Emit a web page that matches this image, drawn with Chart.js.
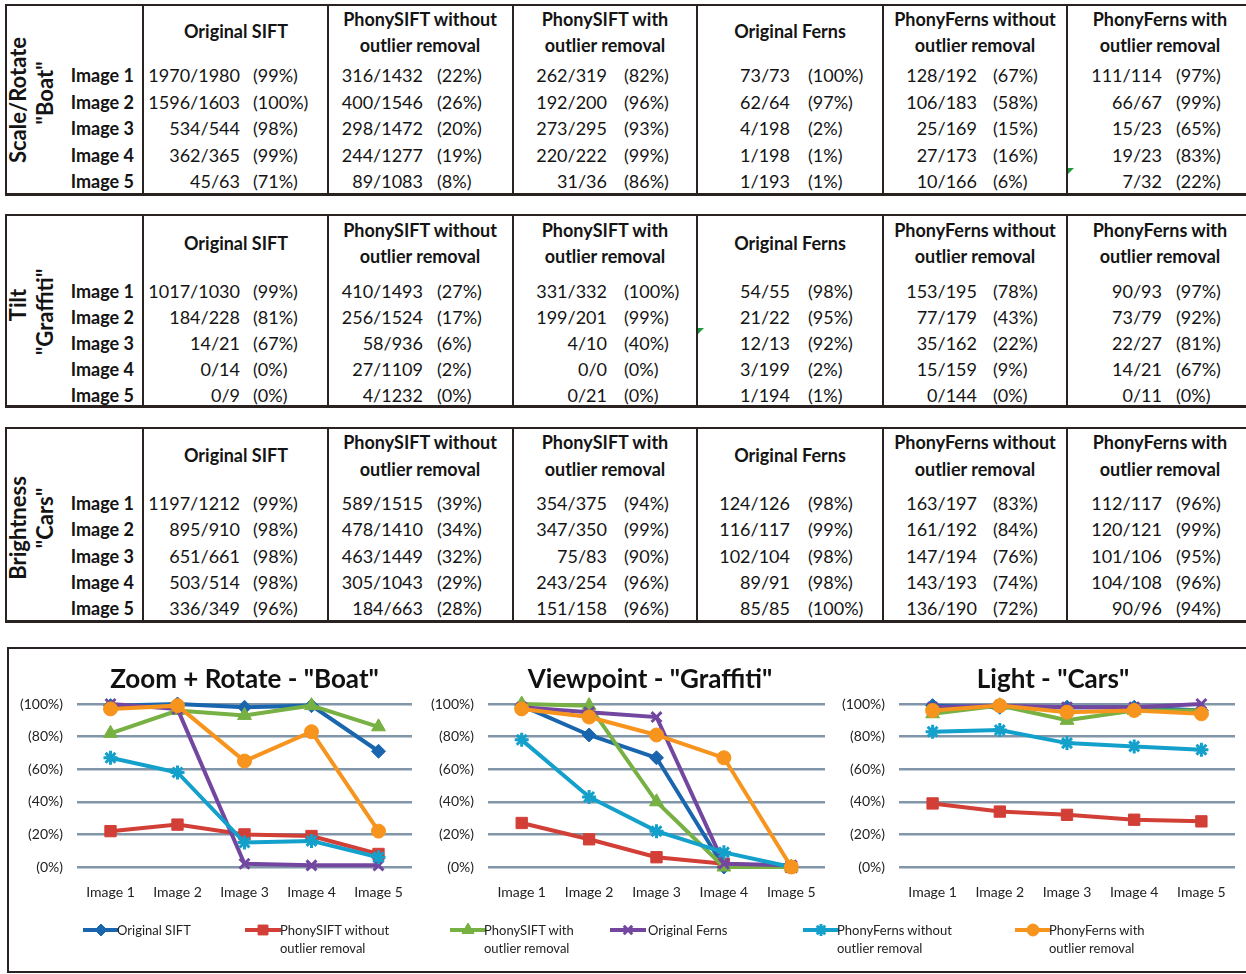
<!DOCTYPE html>
<html>
<head>
<meta charset="utf-8">
<script src="https://cdn.jsdelivr.net/npm/chart.js@4.4.1/dist/chart.umd.min.js"></script>
<style>
  html, body { margin: 0; padding: 0; background: #fff; }
  body { width: 1246px; height: 974px; overflow: hidden; position: relative;
         font-family: Lato, "Open Sans", sans-serif; color: #141414; }
  .cell { position: absolute; white-space: nowrap; font-size: 18px; line-height: 22px; height: 22px; }
  .b { font-weight: bold; }
  .frame { position: absolute; border: 2px solid #2a2220; box-sizing: border-box; }
  .vline { position: absolute; width: 2px; background: #2a2220; }
  .rot { position: absolute; white-space: nowrap; font-weight: bold; font-size: 22px; line-height: 24px;
         transform: translate(-50%, -50%) rotate(-90deg); }
  .flag { position: absolute; width: 0; height: 0; border-top: 6px solid #1a9a3a; border-right: 6px solid transparent; }
  canvas.chart { position: absolute; }
  .leg { position: absolute; font-size: 13px; line-height: 18px; white-space: nowrap; color: #222; }
</style>
</head>
<body>
<script>
// ---- categories and labels ----
const images = ['Image 1', 'Image 2', 'Image 3', 'Image 4', 'Image 5'];
const methods = [
  ['Original SIFT'],
  ['PhonySIFT without', 'outlier removal'],
  ['PhonySIFT with', 'outlier removal'],
  ['Original Ferns'],
  ['PhonyFerns without', 'outlier removal'],
  ['PhonyFerns with', 'outlier removal']
];
const yTickValues = [0, 20, 40, 60, 80, 100];
const yTickLabels = ['(0%)', '(20%)', '(40%)', '(60%)', '(80%)', '(100%)'];

// ---- Scale/Rotate "Boat" (rows: methods, columns: images) ----
const boatMatched = [
  [1970, 1596, 534, 362, 45],
  [316, 400, 298, 244, 89],
  [262, 192, 273, 220, 31],
  [73, 62, 4, 1, 1],
  [128, 106, 25, 27, 10],
  [111, 66, 15, 19, 7]
];
const boatTotal = [
  [1980, 1603, 544, 365, 63],
  [1432, 1546, 1472, 1277, 1083],
  [319, 200, 295, 222, 36],
  [73, 64, 198, 198, 193],
  [192, 183, 169, 173, 166],
  [114, 67, 23, 23, 32]
];
const boatPercent = [
  [99, 100, 98, 99, 71],
  [22, 26, 20, 19, 8],
  [82, 96, 93, 99, 86],
  [100, 97, 2, 1, 1],
  [67, 58, 15, 16, 6],
  [97, 99, 65, 83, 22]
];

// ---- Tilt "Graffiti" ----
const graffitiMatched = [
  [1017, 184, 14, 0, 0],
  [410, 256, 58, 27, 4],
  [331, 199, 4, 0, 0],
  [54, 21, 12, 3, 1],
  [153, 77, 35, 15, 0],
  [90, 73, 22, 14, 0]
];
const graffitiTotal = [
  [1030, 228, 21, 14, 9],
  [1493, 1524, 936, 1109, 1232],
  [332, 201, 10, 0, 21],
  [55, 22, 13, 199, 194],
  [195, 179, 162, 159, 144],
  [93, 79, 27, 21, 11]
];
const graffitiPercent = [
  [99, 81, 67, 0, 0],
  [27, 17, 6, 2, 0],
  [100, 99, 40, 0, 0],
  [98, 95, 92, 2, 1],
  [78, 43, 22, 9, 0],
  [97, 92, 81, 67, 0]
];

// ---- Brightness "Cars" ----
const carsMatched = [
  [1197, 895, 651, 503, 336],
  [589, 478, 463, 305, 184],
  [354, 347, 75, 243, 151],
  [124, 116, 102, 89, 85],
  [163, 161, 147, 143, 136],
  [112, 120, 101, 104, 90]
];
const carsTotal = [
  [1212, 910, 661, 514, 349],
  [1515, 1410, 1449, 1043, 663],
  [375, 350, 83, 254, 158],
  [126, 117, 104, 91, 85],
  [197, 192, 194, 193, 190],
  [117, 121, 106, 108, 96]
];
const carsPercent = [
  [99, 98, 98, 98, 96],
  [39, 34, 32, 29, 28],
  [94, 99, 90, 96, 96],
  [98, 99, 98, 98, 100],
  [83, 84, 76, 74, 72],
  [96, 99, 95, 96, 94]
];

// ---- series styling ----
const seriesColors = ['#1a66ae', '#d23f37', '#77b043', '#7347a0', '#13a0cb', '#f7941e'];
const seriesPoints = ['rectRot', 'rect', 'triangle', 'crossRot', 'star', 'circle'];
const seriesRadius = [7, 8, 8, 7, 7, 7];

// ---- tables ----
const colSep = [143, 328, 513, 697, 883, 1067];
const headCenter = [236, 420, 605, 790, 975, 1160];
const fracRight = [240, 423, 607, 790, 977, 1162];
const pctLeft = [253, 437, 624, 808, 993, 1176];

const tables = [
  { names: ['Scale/Rotate', '"Boat"'], nameY: [100, 93], matched: boatMatched, total: boatTotal, pct: boatPercent,
    top: 4, bottom: 196, head2: [19, 45], head1: 31, row0: 75, step: 26.5 },
  { names: ['Tilt', '"Graffiti"'], nameY: [305, 312], matched: graffitiMatched, total: graffitiTotal, pct: graffitiPercent,
    top: 214, bottom: 408, head2: [230, 256], head1: 243, row0: 290.5, step: 26 },
  { names: ['Brightness', '"Cars"'], nameY: [528, 518], matched: carsMatched, total: carsTotal, pct: carsPercent,
    top: 427, bottom: 623, head2: [442, 469], head1: 455, row0: 503, step: 26.3 }
];

function addDiv(cls, text, style) {
  const d = document.createElement('div');
  d.className = cls;
  if (text !== null) d.textContent = text;
  Object.assign(d.style, style);
  document.body.appendChild(d);
  return d;
}

tables.forEach(t => {
  addDiv('frame', null, { left: '5px', top: t.top + 'px', width: '1260px', height: (t.bottom - t.top) + 'px',
    borderBottomWidth: '3px' });
  colSep.forEach(x => addDiv('vline', null, { left: (x - 1) + 'px', top: t.top + 'px', height: (t.bottom - t.top) + 'px' }));
  addDiv('rot', t.names[0], { left: '18px', top: t.nameY[0] + 'px' });
  addDiv('rot', t.names[1], { left: '45px', top: t.nameY[1] + 'px' });

  methods.forEach((lines, c) => {
    if (lines.length === 1) {
      addDiv('cell b', lines[0], { left: (headCenter[c] - 100) + 'px', width: '200px', textAlign: 'center', top: (t.head1 - 11) + 'px' });
    } else {
      lines.forEach((ln, k) => addDiv('cell b', ln,
        { left: (headCenter[c] - 100) + 'px', width: '200px', textAlign: 'center', top: (t.head2[k] - 11) + 'px' }));
    }
  });

  images.forEach((img, r) => {
    const y = t.row0 + r * t.step - 11;
    addDiv('cell b', img, { left: '0px', width: '134px', textAlign: 'right', top: y + 'px' });
    methods.forEach((m, c) => {
      addDiv('cell', t.matched[c][r] + '/' + t.total[c][r],
        { left: (fracRight[c] - 150) + 'px', width: '150px', textAlign: 'right', top: y + 'px' });
      addDiv('cell', '(' + t.pct[c][r] + '%)', { left: pctLeft[c] + 'px', top: y + 'px' });
    });
  });
});

// small cell-note markers
addDiv('flag', null, { left: '1068px', top: '168px' });
addDiv('flag', null, { left: '698px', top: '328px' });

// ---- chart panel ----
addDiv('frame', null, { left: '7px', top: '647px', width: '1260px', height: '326px' });

// canvas spans are chosen so the title is centred over each canvas
const charts = [
  { title: 'Zoom + Rotate - "Boat"', pct: boatPercent, left: 20, width: 449, axisW: 57, padR: 57 },
  { title: 'Viewpoint - "Graffiti"', pct: graffitiPercent, left: 430, width: 440, axisW: 58, padR: 45 },
  { title: 'Light - "Cars"', pct: carsPercent, left: 840, width: 426, axisW: 59, padR: 31 }
];

const tickFont = { family: 'Lato', size: 14 };

charts.forEach(cfg => {
  const cv = document.createElement('canvas');
  cv.className = 'chart';
  cv.width = cfg.width; cv.height = 245;
  Object.assign(cv.style, { left: cfg.left + 'px', top: '660px', width: cfg.width + 'px', height: '245px' });
  document.body.appendChild(cv);

  new Chart(cv.getContext('2d'), {
    type: 'line',
    data: {
      labels: images,
      datasets: methods.map((m, i) => ({
        label: m.join(' '),
        data: cfg.pct[i],
        borderColor: seriesColors[i],
        backgroundColor: seriesColors[i],
        pointBackgroundColor: seriesColors[i],
        pointBorderColor: seriesColors[i],
        borderWidth: 4,
        pointStyle: seriesPoints[i],
        pointRadius: seriesRadius[i],
        pointBorderWidth: (seriesPoints[i] === 'crossRot' || seriesPoints[i] === 'star') ? 3 : 1,
        tension: 0,
        fill: false,
        clip: false,
        order: methods.length - 1 - i
      }))
    },
    options: {
      responsive: false,
      animation: false,
      devicePixelRatio: 1,
      layout: { padding: 0 },
      plugins: {
        legend: { display: false },
        tooltip: { enabled: false },
        title: {
          display: true, text: cfg.title, color: '#111',
          font: { family: 'Lato', size: 26, weight: 'bold', lineHeight: 1.2 },
          padding: { top: 4, bottom: 8.8 }
        }
      },
      scales: {
        x: {
          offset: true,
          grid: { display: false, drawTicks: false },
          border: { display: false },
          ticks: { font: tickFont, color: '#222', padding: 17, maxRotation: 0, autoSkip: false },
          afterFit: s => { s.height = 38; }
        },
        y: {
          min: 0, max: 100,
          grid: { color: '#8196a9', lineWidth: 2.5, drawTicks: false },
          border: { display: false },
          ticks: {
            stepSize: 20, padding: 14, font: tickFont, color: '#222',
            callback: v => yTickLabels[yTickValues.indexOf(v)]
          },
          afterFit: s => { s.width = cfg.axisW; }
        },
        // blank right-hand spacer so the plot ends where the gridlines stop
        spacer: {
          type: 'linear', position: 'right', min: 0, max: 100,
          grid: { display: false, drawTicks: false },
          border: { display: false },
          ticks: { display: false },
          afterFit: s => { s.width = cfg.padR; }
        }
      }
    }
  });
});

// ---- shared legend ----
const legIconLeft = [83, 245, 450, 610, 803, 1015];
const legTextLeft = [117, 280, 484, 648, 837, 1049];
methods.forEach((lines, i) => {
  const cv = document.createElement('canvas');
  cv.width = 36; cv.height = 18;
  Object.assign(cv.style, { position: 'absolute', left: legIconLeft[i] + 'px', top: '921px' });
  document.body.appendChild(cv);
  const ctx = cv.getContext('2d');
  ctx.strokeStyle = seriesColors[i];
  ctx.fillStyle = seriesColors[i];
  ctx.lineWidth = 4;
  ctx.beginPath(); ctx.moveTo(0, 9); ctx.lineTo(36, 9); ctx.stroke();
  const isLine = seriesPoints[i] === 'crossRot' || seriesPoints[i] === 'star';
  ctx.lineWidth = isLine ? 3 : 1;
  if (Chart.helpers && Chart.helpers.drawPoint) {
    Chart.helpers.drawPoint(ctx, { pointStyle: seriesPoints[i], radius: seriesRadius[i] - 1, rotation: 0,
      borderWidth: ctx.lineWidth }, 18, 9);
  } else {
    ctx.beginPath(); ctx.arc(18, 9, 6, 0, Math.PI * 2); ctx.fill();
  }
  lines.forEach((ln, k) => addDiv('leg', ln, { left: legTextLeft[i] + 'px', top: (921 + k * 18) + 'px' }));
});
</script>
</body>
</html>
